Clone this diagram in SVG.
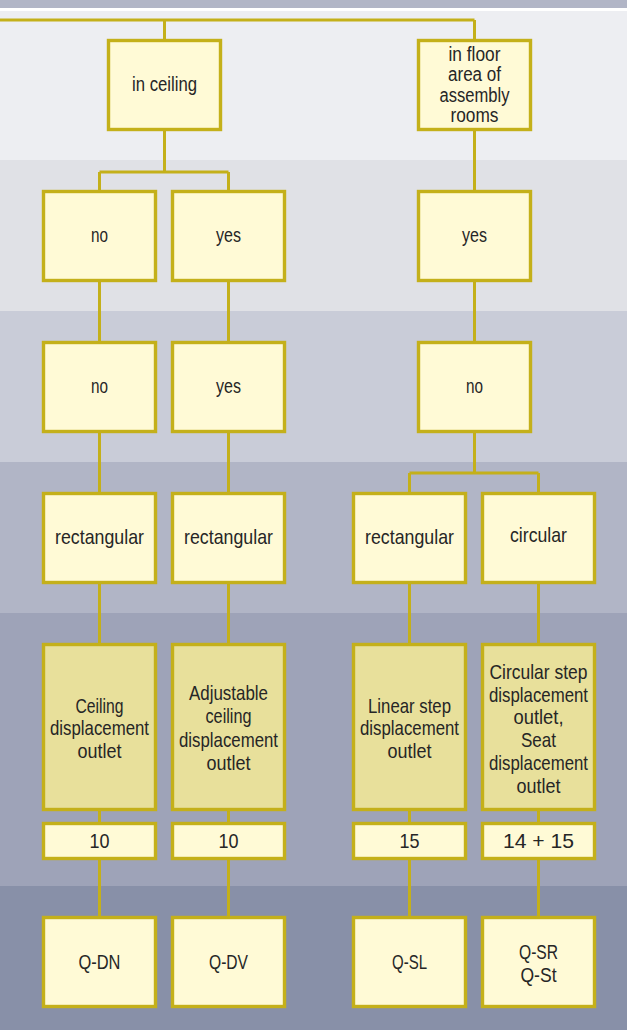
<svg xmlns="http://www.w3.org/2000/svg" width="627" height="1030" viewBox="0 0 627 1030">
<style>
.b{fill:#fffad6;stroke:#c4b01a;stroke-width:3.4}
.t{fill:#e8e09b;stroke:#c4b01a;stroke-width:3.4}
.c{fill:none;stroke:#c4b01a;stroke-width:3}
text{font-family:"Liberation Sans Narrow","Liberation Sans",Arial,sans-serif;font-size:21px;fill:#262626;text-anchor:middle}
.s{font-size:20px}
</style>
<g id="background">
<rect x="0" y="0" width="627" height="8" fill="#b1b5c6"/>
<rect x="0" y="8" width="627" height="3" fill="#ffffff"/>
<rect x="0" y="11" width="627" height="149" fill="#edeef2"/>
<rect x="0" y="160" width="627" height="151" fill="#e0e1e6"/>
<rect x="0" y="311" width="627" height="151" fill="#c9ccd8"/>
<rect x="0" y="462" width="627" height="151" fill="#b1b5c6"/>
<rect x="0" y="613" width="627" height="273" fill="#9ea3b8"/>
<rect x="0" y="886" width="627" height="144" fill="#8890a8"/>
</g>
<g id="connectors">
<path class="c" d="M0 20H474.5M164.5 20V39M474.5 20V39"/>
<path class="c" d="M164.5 131V172M99.5 172H228.5M99.5 172V190M228.5 172V190"/>
<path class="c" d="M474.5 131V190M474.5 282V341M474.5 433V473M409.5 473H538.5M409.5 473V492M538.5 473V492"/>
<path class="c" d="M99.5 282V341M99.5 433V492M99.5 584V643M99.5 811V822M99.5 860V916"/>
<path class="c" d="M228.5 282V341M228.5 433V492M228.5 584V643M228.5 811V822M228.5 860V916"/>
<path class="c" d="M409.5 584V643M409.5 811V822M409.5 860V916"/>
<path class="c" d="M538.5 584V643M538.5 811V822M538.5 860V916"/>
</g>
<g id="n-ceiling"><rect class="b" x="108.5" y="40.5" width="112" height="89"/><text x="164.5" y="91" textLength="65" lengthAdjust="spacingAndGlyphs">in ceiling</text></g>
<g id="n-floor"><rect class="b" x="418.5" y="40.5" width="112" height="89"/>
<text class="s" x="474.5" y="61" textLength="52" lengthAdjust="spacingAndGlyphs">in floor</text>
<text class="s" x="474.5" y="81.3" textLength="53" lengthAdjust="spacingAndGlyphs">area of</text>
<text class="s" x="474.5" y="101.6" textLength="70" lengthAdjust="spacingAndGlyphs">assembly</text>
<text class="s" x="474.5" y="121.9" textLength="48" lengthAdjust="spacingAndGlyphs">rooms</text></g>
<g id="n-r2-no"><rect class="b" x="43.5" y="191.5" width="112" height="89"/><text x="99.5" y="242" textLength="17" lengthAdjust="spacingAndGlyphs">no</text></g>
<g id="n-r2-yes1"><rect class="b" x="172.5" y="191.5" width="112" height="89"/><text x="228.5" y="242" textLength="25" lengthAdjust="spacingAndGlyphs">yes</text></g>
<g id="n-r2-yes2"><rect class="b" x="418.5" y="191.5" width="112" height="89"/><text x="474.5" y="242" textLength="25" lengthAdjust="spacingAndGlyphs">yes</text></g>
<g id="n-r3-no1"><rect class="b" x="43.5" y="342.5" width="112" height="89"/><text x="99.5" y="393" textLength="17" lengthAdjust="spacingAndGlyphs">no</text></g>
<g id="n-r3-yes"><rect class="b" x="172.5" y="342.5" width="112" height="89"/><text x="228.5" y="393" textLength="25" lengthAdjust="spacingAndGlyphs">yes</text></g>
<g id="n-r3-no2"><rect class="b" x="418.5" y="342.5" width="112" height="89"/><text x="474.5" y="393" textLength="17" lengthAdjust="spacingAndGlyphs">no</text></g>
<g id="n-r4-rect1"><rect class="b" x="43.5" y="493.5" width="112" height="89"/><text x="99.5" y="544" textLength="89" lengthAdjust="spacingAndGlyphs">rectangular</text></g>
<g id="n-r4-rect2"><rect class="b" x="172.5" y="493.5" width="112" height="89"/><text x="228.5" y="544" textLength="89" lengthAdjust="spacingAndGlyphs">rectangular</text></g>
<g id="n-r4-rect3"><rect class="b" x="353.5" y="493.5" width="112" height="89"/><text x="409.5" y="544" textLength="89" lengthAdjust="spacingAndGlyphs">rectangular</text></g>
<g id="n-r4-circ"><rect class="b" x="482.5" y="493.5" width="112" height="89"/><text x="538.5" y="542" textLength="57" lengthAdjust="spacingAndGlyphs">circular</text></g>
<g id="n-qdn-desc"><rect class="t" x="43.5" y="644.5" width="112" height="165"/>
<text x="99.5" y="712.5" textLength="48" lengthAdjust="spacingAndGlyphs">Ceiling</text>
<text x="99.5" y="735" textLength="99" lengthAdjust="spacingAndGlyphs">displacement</text>
<text x="99.5" y="757.5" textLength="44" lengthAdjust="spacingAndGlyphs">outlet</text></g>
<g id="n-qdv-desc"><rect class="t" x="172.5" y="644.5" width="112" height="165"/>
<text x="228.5" y="700" textLength="79" lengthAdjust="spacingAndGlyphs">Adjustable</text>
<text x="228.5" y="723.3" textLength="46" lengthAdjust="spacingAndGlyphs">ceiling</text>
<text x="228.5" y="746.6" textLength="99" lengthAdjust="spacingAndGlyphs">displacement</text>
<text x="228.5" y="769.5" textLength="44" lengthAdjust="spacingAndGlyphs">outlet</text></g>
<g id="n-qsl-desc"><rect class="t" x="353.5" y="644.5" width="112" height="165"/>
<text x="409.5" y="712.5" textLength="83" lengthAdjust="spacingAndGlyphs">Linear step</text>
<text x="409.5" y="735" textLength="99" lengthAdjust="spacingAndGlyphs">displacement</text>
<text x="409.5" y="757.5" textLength="44" lengthAdjust="spacingAndGlyphs">outlet</text></g>
<g id="n-qsr-desc"><rect class="t" x="482.5" y="644.5" width="112" height="165"/>
<text x="538.5" y="679" textLength="98" lengthAdjust="spacingAndGlyphs">Circular step</text>
<text x="538.5" y="701.7" textLength="99" lengthAdjust="spacingAndGlyphs">displacement</text>
<text x="538.5" y="724.4" textLength="50" lengthAdjust="spacingAndGlyphs">outlet,</text>
<text x="538.5" y="747.4" textLength="35" lengthAdjust="spacingAndGlyphs">Seat</text>
<text x="538.5" y="770.3" textLength="99" lengthAdjust="spacingAndGlyphs">displacement</text>
<text x="538.5" y="793.3" textLength="44" lengthAdjust="spacingAndGlyphs">outlet</text></g>
<g id="n-num1"><rect class="b" x="43.5" y="823.5" width="112" height="35"/><text x="99.5" y="848" textLength="20" lengthAdjust="spacingAndGlyphs">10</text></g>
<g id="n-num2"><rect class="b" x="172.5" y="823.5" width="112" height="35"/><text x="228.5" y="848" textLength="20" lengthAdjust="spacingAndGlyphs">10</text></g>
<g id="n-num3"><rect class="b" x="353.5" y="823.5" width="112" height="35"/><text x="409.5" y="848" textLength="20" lengthAdjust="spacingAndGlyphs">15</text></g>
<g id="n-num4"><rect class="b" x="482.5" y="823.5" width="112" height="35"/><text x="538.5" y="848" textLength="71" lengthAdjust="spacingAndGlyphs">14 + 15</text></g>
<g id="n-qdn"><rect class="b" x="43.5" y="917.5" width="112" height="89"/><text x="99.5" y="969" textLength="42" lengthAdjust="spacingAndGlyphs">Q-DN</text></g>
<g id="n-qdv"><rect class="b" x="172.5" y="917.5" width="112" height="89"/><text x="228.5" y="969" textLength="39" lengthAdjust="spacingAndGlyphs">Q-DV</text></g>
<g id="n-qsl"><rect class="b" x="353.5" y="917.5" width="112" height="89"/><text x="409.5" y="969" textLength="35" lengthAdjust="spacingAndGlyphs">Q-SL</text></g>
<g id="n-qsr"><rect class="b" x="482.5" y="917.5" width="112" height="89"/>
<text x="538.5" y="959.3" textLength="39" lengthAdjust="spacingAndGlyphs">Q-SR</text>
<text x="538.5" y="982" textLength="36" lengthAdjust="spacingAndGlyphs">Q-St</text></g>
</svg>
